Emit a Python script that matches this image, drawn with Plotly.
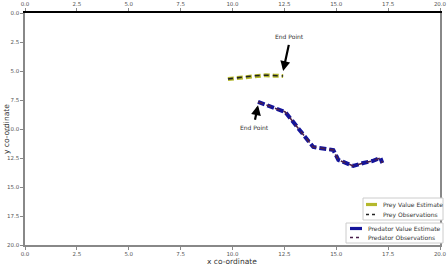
import plotly.graph_objects as go

# ---- data ----
prey_x = [9.78, 10.4, 11.0, 11.6, 12.0, 12.44]
prey_y = [5.69, 5.55, 5.42, 5.36, 5.40, 5.43]

pred_x = [11.23, 12.54, 13.89, 14.86, 15.10, 15.82, 16.30, 16.74, 17.13, 17.22]
pred_y = [7.67, 8.53, 11.55, 11.81, 12.67, 13.19, 12.93, 12.76, 12.50, 12.93]

tick_vals = [0, 2.5, 5, 7.5, 10, 12.5, 15, 17.5, 20]
tick_text = ["0.0", "2.5", "5.0", "7.5", "10.0", "12.5", "15.0", "17.5", "20.0"]

prey_end = (12.44, 5.0)
prey_label = (12.75, 2.45)
pred_end = (11.23, 7.95)
pred_label = (11.05, 9.5)

legend1 = ["Prey Value Estimate", "Prey Observations"]
legend2 = ["Predator Value Estimate", "Predator Observations"]

# ---- styles ----
W, H = 448, 266
ML, MR, MT, MB = 25, 8, 13, 21
PW, PH = W - ML - MR, H - MT - MB
def px(x):
    return (x - ML) / PW
def py(y):
    return (H - MB - y) / PH

prey_est_style = dict(color="#b4b82c", width=4, dash="6px,3px")
prey_obs_style = dict(color="#222222", width=1.6, dash="5px,4px")
pred_est_style = dict(color="#14149a", width=4, dash="7px,3px")
pred_obs_style = dict(color="#4a1f4a", width=1.6, dash="5px,4px")

fig = go.Figure()
fig.add_trace(go.Scatter(x=prey_x, y=prey_y, mode="lines", name=legend1[0], line=prey_est_style))
fig.add_trace(go.Scatter(x=prey_x, y=prey_y, mode="lines", name=legend1[1], line=prey_obs_style))
fig.add_trace(go.Scatter(x=pred_x, y=pred_y, mode="lines", name=legend2[0], line=pred_est_style))
fig.add_trace(go.Scatter(x=pred_x, y=pred_y, mode="lines", name=legend2[1], line=pred_obs_style))
fig.add_trace(go.Scatter(x=[0, 20], y=[0, 20], xaxis="x2", mode="markers",
                         marker=dict(opacity=0), showlegend=False, hoverinfo="skip"))

for (ex, ey), (lx, ly) in [(prey_end, prey_label), (pred_end, pred_label)]:
    fig.add_annotation(x=ex, y=ey, ax=lx, ay=ly, axref="x", ayref="y", xref="x", yref="y",
                       text="", showarrow=True, arrowhead=2, arrowsize=0.9, arrowwidth=2.2,
                       arrowcolor="black", standoff=0, startstandoff=2)
    fig.add_annotation(x=lx, y=ly, xref="x", yref="y", text="End Point", showarrow=False,
                       font=dict(size=6, color="#333333"), borderpad=0,
                       yanchor="bottom" if ly < ey else "top")

# ---- manual legends ----
def draw_legend(box, rows, labels, styles):
    x0, y0, x1, y1 = box
    fig.add_shape(type="rect", xref="paper", yref="paper", x0=px(x0), x1=px(x1), y0=py(y1), y1=py(y0),
                  line=dict(color="#cccccc", width=1), fillcolor="white", layer="above")
    for (hx0, hx1, tx, ry), lab, st in zip(rows, labels, styles):
        fig.add_shape(type="line", xref="paper", yref="paper", x0=px(hx0), x1=px(hx1), y0=py(ry), y1=py(ry),
                      line=dict(color=st["color"], width=st["width"] * 0.8,
                                dash="solid" if st["width"] > 3 else "3px,3px"), layer="above")
        fig.add_annotation(x=px(tx), y=py(ry), xref="paper", yref="paper", text=lab, showarrow=False,
                           xanchor="left", yanchor="middle", font=dict(size=6, color="#333333"))

draw_legend((363, 198, 443, 220),
            [(366, 377, 381, 204.5), (366, 377, 381, 214.5)], legend1, [prey_est_style, prey_obs_style])
draw_legend((346, 223, 443, 243),
            [(350, 362, 366, 228.5), (350, 362, 366, 237.5)], legend2, [pred_est_style, pred_obs_style])

fig.add_annotation(x=px(6), y=py(129), xref="paper", yref="paper", text="y co-ordinate",
                   textangle=-90, showarrow=False, borderpad=0, xanchor="center", yanchor="middle",
                   font=dict(size=7.5, color="#333333"))
fig.add_annotation(x=px(232), y=py(255.5), xref="paper", yref="paper", text="x co-ordinate",
                   showarrow=False, xanchor="center", yanchor="top", borderpad=0,
                   font=dict(size=7.5, color="#333333"))

axis_common = dict(range=[0, 20], tickvals=tick_vals, ticktext=tick_text,
                   ticks="outside", ticklen=3, tickcolor="#888888", tickwidth=1,
                   tickfont=dict(size=5.5, color="#555555", family="DejaVu Sans"),
                   showgrid=False, zeroline=False, showline=True, automargin=False)

fig.update_layout(
    width=W, height=H,
    margin=dict(l=ML, r=MR, t=MT, b=MB),
    plot_bgcolor="white", paper_bgcolor="white",
    font=dict(family="DejaVu Sans"),
    showlegend=False,
    xaxis=dict(**axis_common, linecolor="#888888", linewidth=1.5),
    xaxis2=dict(**axis_common, overlaying="x", side="top", linecolor="black", linewidth=1.5),
    yaxis=dict(**axis_common, linecolor="#888888", linewidth=1.5, mirror=True),
)
fig.update_yaxes(range=[20, 0], autorange=False)

fig.write_html("out.html", config={"displayModeBar": False},
               post_script="document.body.style.margin='0';document.body.style.overflow='hidden';")
